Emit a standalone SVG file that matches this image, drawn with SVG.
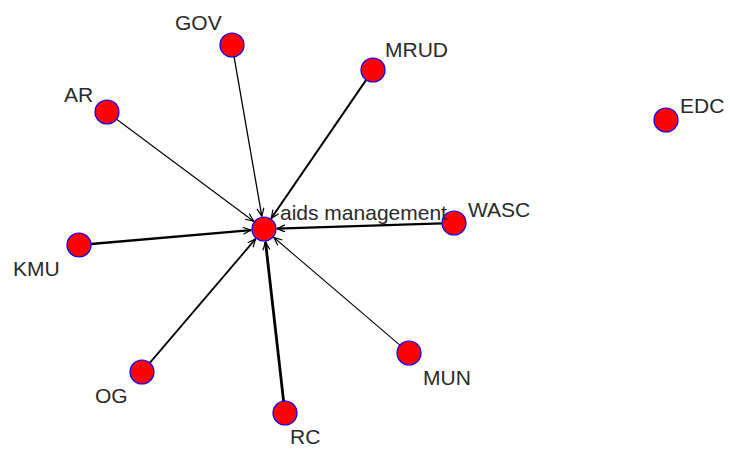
<svg xmlns="http://www.w3.org/2000/svg" width="730" height="449" viewBox="0 0 730 449">
<style>
.n{fill:#ff0000;stroke:#0000ff;stroke-width:1.2}
.l{font-family:"Liberation Sans",Arial,sans-serif;font-size:21px;fill:#2a2a2a}
.e{stroke:#000;fill:none;marker-end:url(#arr)}
</style>
<defs>
<marker id="arr" markerUnits="userSpaceOnUse" markerWidth="12" markerHeight="10" refX="9" refY="4" orient="auto">
<path d="M1,0.5 L9,4 L1,7.5" fill="none" stroke="#000" stroke-width="1.2"/>
</marker>
</defs>
<rect width="730" height="449" fill="#fff"/>
<g id="edges">
<line class="e" x1="234.1" y1="56.8" x2="261.8" y2="216.2" stroke-width="1.3"/>
<line class="e" x1="366.2" y1="79.9" x2="271.3" y2="218.3" stroke-width="2"/>
<line class="e" x1="116.6" y1="119.2" x2="253.6" y2="221.2" stroke-width="1.1"/>
<line class="e" x1="91" y1="244" x2="251" y2="230.1" stroke-width="2.4"/>
<line class="e" x1="442" y1="223.4" x2="277" y2="228.6" stroke-width="2.2"/>
<line class="e" x1="149.8" y1="362.9" x2="255.6" y2="238.9" stroke-width="1.8"/>
<line class="e" x1="283.6" y1="401.1" x2="265.5" y2="241.9" stroke-width="2.8"/>
<line class="e" x1="399.9" y1="345.2" x2="273.9" y2="237.5" stroke-width="1.1"/>
</g>
<g id="node-GOV"><circle class="n" cx="232" cy="45" r="12"/><text class="l" x="175" y="30">GOV</text></g>
<g id="node-MRUD"><circle class="n" cx="373" cy="70" r="12"/><text class="l" x="385" y="57">MRUD</text></g>
<g id="node-AR"><circle class="n" cx="107" cy="112" r="12"/><text class="l" x="64" y="102">AR</text></g>
<g id="node-KMU"><circle class="n" cx="79" cy="245" r="12"/><text class="l" x="13" y="276">KMU</text></g>
<g id="node-OG"><circle class="n" cx="142" cy="372" r="12"/><text class="l" x="95" y="403">OG</text></g>
<g id="node-RC"><circle class="n" cx="285" cy="413" r="12"/><text class="l" x="290" y="444">RC</text></g>
<g id="node-MUN"><circle class="n" cx="409" cy="353" r="12"/><text class="l" x="423" y="385">MUN</text></g>
<g id="node-WASC"><circle class="n" cx="454" cy="223" r="12"/><text class="l" x="468" y="217">WASC</text></g>
<g id="node-EDC"><circle class="n" cx="666" cy="120" r="12"/><text class="l" x="680" y="113">EDC</text></g>
<g id="node-aids"><circle class="n" cx="264" cy="229" r="12"/><text class="l" x="280" y="220">aids management</text></g>
</svg>
